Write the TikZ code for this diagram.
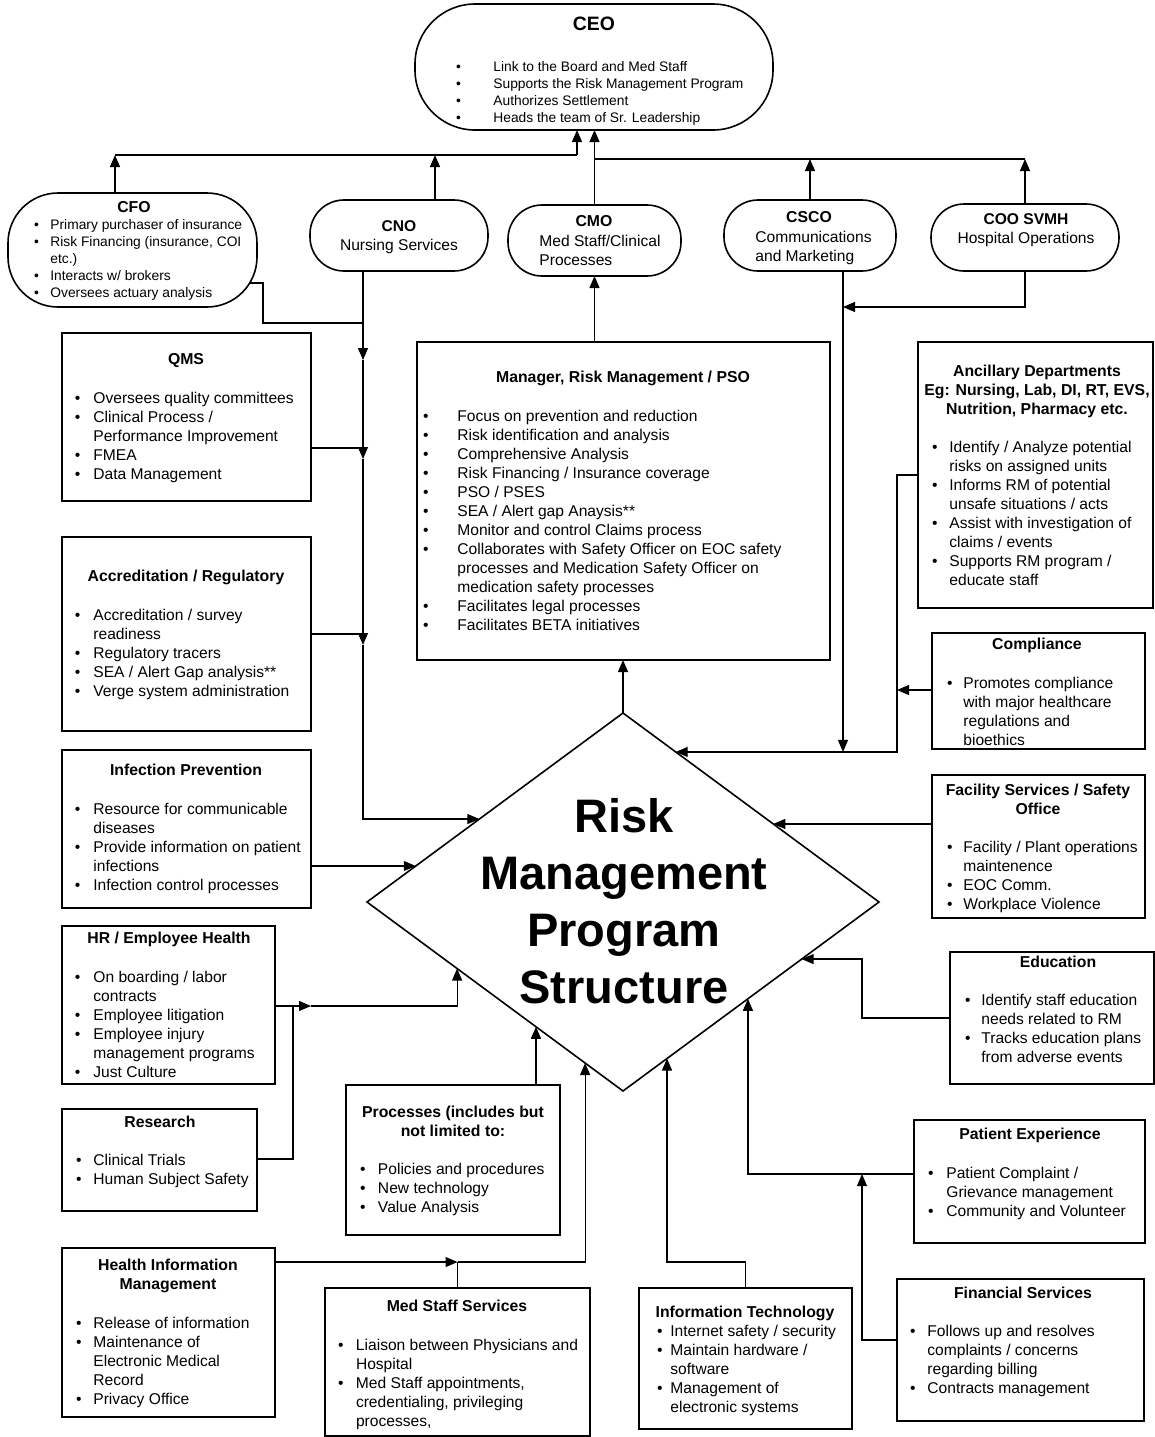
\documentclass[tikz,border=0pt]{standalone}
\usepackage{fontspec}
\setmainfont{Liberation Sans}
\usetikzlibrary{arrows.meta,shapes.geometric,fit,calc}
\newlength\bw
\newcommand\itm[1]{\makebox[\bw][l]{\textbullet}#1}
\newcommand\cnt[1]{\hspace*{\bw}#1}
\tikzset{
  box/.style={draw, line width=0.8pt, inner sep=0pt, outer sep=0pt, rectangle},
  pill/.style={box, rounded corners=#1},
  con/.style={line width=0.6pt},
  arr/.style={con, -{Triangle[length=6pt,width=5pt]}},
  lst/.style={anchor=north west, align=left, inner sep=0pt, yshift=-0.8pt, font=\fontsize{7.8}{9.5}\selectfont},
  ttl/.style={anchor=north, align=center, inner sep=0pt, font=\bfseries\fontsize{7.9}{9.5}\selectfont},
  pl/.style={anchor=north, align=center, inner sep=0pt, font=\fontsize{7.8}{9.5}\selectfont},
}
\begin{document}
\begin{tikzpicture}[x=0.5pt,y=-0.5pt]
\useasboundingbox (0,0) rectangle (1155,1437);
\fill[white] (0,0) rectangle (1155,1437);

% ---------- top level ----------
\node[pill=30pt, fit={(415,4) (773,130)}] (ceo) {};
\node[pill=25pt, fit={(8,193) (257,307)}] (cfo) {};
\node[pill=17pt, fit={(310,200) (488,271)}] (cno) {};
\node[pill=17pt, fit={(508,205) (681,276)}] (cmo) {};
\node[pill=17pt, fit={(724,200) (896,271)}] (csco) {};
\node[pill=16.5pt, fit={(931,204) (1119,271)}] (coo) {};

% ---------- boxes ----------
\node[box, fit={(417,342) (830,660)}] (mgr) {};
\node[box, fit={(62,333) (311,501)}] (qms) {};
\node[box, fit={(62,537) (311,731)}] (acc) {};
\node[box, fit={(62,750) (311,908)}] (inf) {};
\node[box, fit={(62,926) (275,1084)}] (hr) {};
\node[box, fit={(62,1109) (257,1211)}] (res) {};
\node[box, fit={(62,1248) (275,1417)}] (him) {};
\node[box, fit={(346,1085) (560,1235)}] (proc) {};
\node[box, fit={(325,1288) (590,1436)}] (mss) {};
\node[box, fit={(639,1288) (852,1429)}] (it) {};
\node[box, fit={(918,342) (1153,608)}] (anc) {};
\node[box, fit={(932,633) (1145,749)}] (comp) {};
\node[box, fit={(932,775) (1145,918)}] (fac) {};
\node[box, fit={(950,952) (1154,1084)}] (edu) {};
\node[box, fit={(914,1120) (1145,1243)}] (pat) {};
\node[box, fit={(897,1279) (1144,1421)}] (fin) {};
\node[box, diamond, minimum width=256pt, minimum height=189pt] (rmp) at (623,902) {};

% ---------- texts ----------
\node[ttl, font=\bfseries\fontsize{9.7}{11.6}\selectfont] (ceoT) at (594,14) {\strut CEO};
\node[lst, font=\fontsize{6.9}{8.5}\selectfont] (ceoL) at (455.6,57.7) {\global\bw=18.7pt\strut\itm{Link to the Board and Med Staff}\\\itm{Supports the Risk Management Program}\\\itm{Authorizes Settlement}\\\itm{Heads the team of Sr. Leadership}};

\node[ttl] (cfoT) at (134,198.5) {\strut CFO};
\node[lst, font=\fontsize{6.9}{8.5}\selectfont] (cfoL) at (33.6,215.7) {\global\bw=8.2pt\strut\itm{Primary purchaser of insurance}\\\itm{Risk Financing (insurance, COI}\\\cnt{etc.)}\\\itm{Interacts w/ brokers}\\\itm{Oversees actuary analysis}};

\node[pl] (cnoT) at (399,217.5) {\strut\textbf{CNO}\\Nursing Services};
\node[ttl] (cmoT) at (594,212.5) {\strut CMO};
\node[lst] (cmoL) at (539,230.8) {\strut Med Staff/Clinical\\Processes};
\node[ttl] (cscoT) at (809,208.5) {\strut CSCO};
\node[lst] (cscoL) at (755,226.8) {\strut Communications\\and Marketing};
\node[pl] (cooT) at (1026,210.5) {\strut\textbf{COO SVMH}\\Hospital Operations};

\node[ttl] (mgrT) at (623,368.5) {\strut Manager, Risk Management / PSO};
\node[lst] (mgrL) at (422.6,405.8) {\global\bw=17.2pt\strut\itm{Focus on prevention and reduction}\\\itm{Risk identification and analysis}\\\itm{Comprehensive Analysis}\\\itm{Risk Financing / Insurance coverage}\\\itm{PSO / PSES}\\\itm{SEA / Alert gap Anaysis**}\\\itm{Monitor and control Claims process}\\\itm{Collaborates with Safety Officer on EOC safety}\\\cnt{processes and Medication Safety Officer on}\\\cnt{medication safety processes}\\\itm{Facilitates legal processes}\\\itm{Facilitates BETA initiatives}};

\node[ttl] (qmsT) at (186,350.5) {\strut QMS};
\node[lst] (qmsL) at (74.6,387.8) {\global\bw=9.2pt\strut\itm{Oversees quality committees}\\\itm{Clinical Process /}\\\cnt{Performance Improvement}\\\itm{FMEA}\\\itm{Data Management}};

\node[ttl] (accT) at (186,567.5) {\strut Accreditation / Regulatory};
\node[lst] (accL) at (74.6,604.8) {\global\bw=9.2pt\strut\itm{Accreditation / survey}\\\cnt{readiness}\\\itm{Regulatory tracers}\\\itm{SEA / Alert Gap analysis**}\\\itm{Verge system administration}};

\node[ttl] (infT) at (186,761.5) {\strut Infection Prevention};
\node[lst] (infL) at (74.6,798.8) {\global\bw=9.2pt\strut\itm{Resource for communicable}\\\cnt{diseases}\\\itm{Provide information on patient}\\\cnt{infections}\\\itm{Infection control processes}};

\node[ttl] (hrT) at (169,929.5) {\strut HR / Employee Health};
\node[lst] (hrL) at (74.6,966.8) {\global\bw=9.2pt\strut\itm{On boarding / labor}\\\cnt{contracts}\\\itm{Employee litigation}\\\itm{Employee injury}\\\cnt{management programs}\\\itm{Just Culture}};

\node[ttl] (resT) at (160,1113.5) {\strut Research};
\node[lst] (resL) at (75.6,1149.8) {\global\bw=8.7pt\strut\itm{Clinical Trials}\\\itm{Human Subject Safety}};

\node[ttl] (himT) at (168,1257) {\strut Health Information\\Management};
\node[lst] (himL) at (75.6,1312.8) {\global\bw=8.7pt\strut\itm{Release of information}\\\itm{Maintenance of}\\\cnt{Electronic Medical}\\\cnt{Record}\\\itm{Privacy Office}};

\node[ttl] (mssT) at (457,1297.5) {\strut Med Staff Services};
\node[lst] (mssL) at (337.6,1334.8) {\global\bw=9pt\strut\itm{Liaison between Physicians and}\\\cnt{Hospital}\\\itm{Med Staff appointments,}\\\cnt{credentialing, privileging}\\\cnt{processes,}};

\node[ttl] (procT) at (453,1103.5) {\strut Processes (includes but\\not limited to:};
\node[lst] (procL) at (359.6,1158.8) {\global\bw=9pt\strut\itm{Policies and procedures}\\\itm{New technology}\\\itm{Value Analysis}};

\node[ttl] (itT) at (745,1303.5) {\strut Information Technology};
\node[lst] (itL) at (656.6,1320.8) {\global\bw=6.7pt\strut\itm{Internet safety / security}\\\itm{Maintain hardware /}\\\cnt{software}\\\itm{Management of}\\\cnt{electronic systems}};

\node[ttl] (ancT) at (1037,362.5) {\strut Ancillary Departments\\Eg: Nursing, Lab, DI, RT, EVS,\\Nutrition, Pharmacy etc.};
\node[lst] (ancL) at (931.6,436.8) {\global\bw=8.7pt\strut\itm{Identify / Analyze potential}\\\cnt{risks on assigned units}\\\itm{Informs RM of potential}\\\cnt{unsafe situations / acts}\\\itm{Assist with investigation of}\\\cnt{claims / events}\\\itm{Supports RM program /}\\\cnt{educate staff}};

\node[ttl] (compT) at (1037,635.5) {\strut Compliance};
\node[lst] (compL) at (946.6,672.8) {\global\bw=8.2pt\strut\itm{Promotes compliance}\\\cnt{with major healthcare}\\\cnt{regulations and}\\\cnt{bioethics}};

\node[ttl] (facT) at (1038,781.5) {\strut Facility Services / Safety\\Office};
\node[lst] (facL) at (946.6,836.8) {\global\bw=8.2pt\strut\itm{Facility / Plant operations}\\\cnt{maintenence}\\\itm{EOC Comm.}\\\itm{Workplace Violence}};

\node[ttl] (eduT) at (1058,953.5) {\strut Education};
\node[lst] (eduL) at (964.6,989.8) {\global\bw=8.2pt\strut\itm{Identify staff education}\\\cnt{needs related to RM}\\\itm{Tracks education plans}\\\cnt{from adverse events}};

\node[ttl] (patT) at (1030,1125.5) {\strut Patient Experience};
\node[lst] (patL) at (927.6,1162.8) {\global\bw=9.2pt\strut\itm{Patient Complaint /}\\\cnt{Grievance management}\\\itm{Community and Volunteer}};

\node[ttl] (finT) at (1023,1284.5) {\strut Financial Services};
\node[lst] (finL) at (909.6,1320.8) {\global\bw=8.7pt\strut\itm{Follows up and resolves}\\\cnt{complaints / concerns}\\\cnt{regarding billing}\\\itm{Contracts management}};

\node[anchor=north, align=center, inner sep=0pt, font=\bfseries\fontsize{23.5}{28.5}\selectfont] (rmpT) at (624,792) {\strut Risk\\Management\\Program\\Structure};

% ---------- connectors: top bus ----------
\coordinate (bl) at (577,155);
\coordinate (blL) at (115,155);
\coordinate (bcno) at (435,155);
\coordinate (br) at (595,159);
\draw[arr] (bl) -- (bl |- ceo.south);
\draw[con] (blL) -- (bl);
\draw[arr] (cfo.north -| blL) -- (blL);
\draw[arr] (cno.north -| bcno) -- (bcno);
\draw[arr] (cmo.north) -- (cmo.north |- ceo.south);
\draw[con] (cmo.north |- br) -- (coo.north |- br);
\draw[arr] (csco.north) -- (csco.north |- br);
\draw[arr] (coo.north) -- (coo.north |- br);

% manager
\draw[arr] (mgr.north -| cmo.south) -- (cmo.south);
\draw[arr] (rmp.north) -- (rmp.north |- mgr.south);

% left column
\coordinate (j1) at (363,323);
\coordinate (a1) at (363,360);
\coordinate (a2) at (363,459);
\coordinate (a3) at (363,645);
\draw[con] ($(cfo.east |- 0,283)+(-7,0)$) -| (263,323) -- (j1);
\draw[arr] (cno.south -| j1) -- (a1);
\draw[arr] (a1) -- (a2);
\draw[arr] (a2) -- (a3);
\coordinate (d1) at ($(rmp.west)!0.439!(rmp.north)$);
\draw[arr] (a3) |- (d1);
\draw[con] (qms.east |- 0,448) -- (363,448);
\draw[con] (acc.east |- 0,634) -- (363,634);

\coordinate (d2) at ($(rmp.west)!0.1905!(rmp.north)$);
\draw[arr] (inf.east |- d2) -- (d2);

\coordinate (d3) at ($(rmp.west)!0.352!(rmp.south)$);
\coordinate (hrj) at (293,1006);
\coordinate (hra) at (311,1006);
\draw[con] (hr.east |- hrj) -- (hrj);
\draw[arr] (hrj) -- (hra);
\draw[arr] (hra) -| (d3);
\draw[con] (res.east |- 0,1159) -| (hrj);

\coordinate (d4) at ($(rmp.west)!0.66!(rmp.south)$);
\draw[arr] (proc.north -| d4) -- (d4);

\coordinate (d5) at ($(rmp.west)!0.852!(rmp.south)$);
\coordinate (hima) at (mss.north |- 0,1262);
\draw[arr] (him.east |- hima) -- (hima);
\draw[con] (mss.north) -- (hima);
\draw[arr] (hima) -| (d5);

% bottom / right
\coordinate (d6) at ($(rmp.south)!0.172!(rmp.east)$);
\draw[arr] (it.north) -- (it.north |- 0,1262) -| (d6);

\coordinate (d7) at ($(rmp.south)!0.488!(rmp.east)$);
\coordinate (pj) at (862,1174);
\draw[arr] (pat.west |- pj) -| (d7);
\draw[arr] (fin.west |- 0,1340) -| (pj);

\coordinate (d8) at ($(rmp.east)!0.302!(rmp.south)$);
\draw[arr] (edu.west |- 0,1018) -| (d8 -| pj) -- (d8);

\coordinate (d9) at ($(rmp.east)!0.413!(rmp.north)$);
\draw[arr] (fac.west |- d9) -- (d9);

\coordinate (d10) at ($(rmp.east)!0.794!(rmp.north)$);
\coordinate (vc) at (897,690);
\draw[arr] (anc.west |- 0,475) -| (d10 -| vc) -- (d10);
\draw[arr] (comp.west |- vc) -- (vc);
\coordinate (cs) at (843,307);
\draw[arr] (csco.south -| cs) -- (d10 -| cs);
\draw[arr] (coo.south) |- (cs);
\end{tikzpicture}
\end{document}
